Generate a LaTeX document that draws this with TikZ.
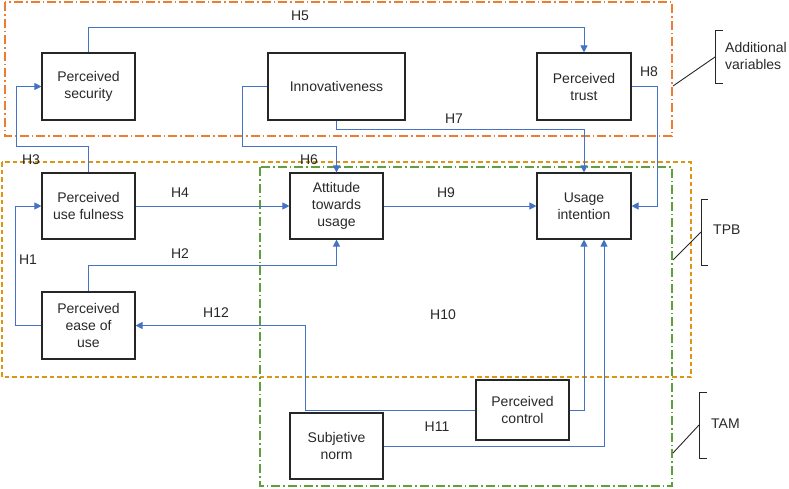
\documentclass[tikz,border=0pt]{standalone}
\usepackage{fontspec}
\setmainfont{Liberation Sans}
\usetikzlibrary{arrows.meta,calc}
\definecolor{conncol}{RGB}{68,114,196}
\definecolor{addcol}{RGB}{237,125,49}
\definecolor{tpbcol}{RGB}{220,150,20}
\definecolor{tamcol}{RGB}{96,160,60}
\definecolor{txtcol}{RGB}{40,40,40}
\begin{document}
\begin{tikzpicture}[x=1pt,y=-1pt,
  every node/.style={font=\fontsize{14}{17}\selectfont, text=txtcol},
  box/.style={draw=black!85, line width=1.1pt, rectangle, align=center, inner sep=2pt},
  conn/.style={draw=conncol, line width=0.9pt, -{Triangle[length=7pt,width=7pt]}},
  lab/.style={inner sep=0pt},
  addgrp/.style={draw=addcol, line width=1.5pt, dash pattern=on 9pt off 3pt on 1.5pt off 3pt},
  tpbgrp/.style={draw=tpbcol, line width=1.5pt, dash pattern=on 4.5pt off 3pt},
  tamgrp/.style={draw=tamcol, line width=1.5pt, dash pattern=on 9pt off 3pt on 1.5pt off 3pt},
  brk/.style={draw=black!85, line width=0.9pt}
]
\useasboundingbox (0,0) rectangle (789,488);

% group frames
\draw[addgrp] (5,2) rectangle (672,136);
\draw[tpbgrp] (2,162) rectangle (691,377);
\draw[tamgrp] (260,167) rectangle (672,486);

% boxes
\node[box, minimum width=93pt, minimum height=67pt] (sec) at (88.5,86.5) {Perceived\\security};
\node[box, minimum width=137pt, minimum height=67pt] (inn) at (336.5,86.5) {Innovativeness};
\node[box, minimum width=94pt, minimum height=67pt] (trust) at (584,86.5) {Perceived\\trust};
\node[box, minimum width=93pt, minimum height=66pt] (puf) at (88.5,206) {Perceived\\use fulness};
\node[box, minimum width=93pt, minimum height=66pt] (att) at (336.5,206) {Attitude\\towards\\usage};
\node[box, minimum width=94pt, minimum height=66pt] (ui) at (584,206) {Usage\\intention};
\node[box, minimum width=93pt, minimum height=67pt] (peou) at (88.5,325.5) {Perceived\\ease of\\use};
\node[box, minimum width=93pt, minimum height=60pt] (pc) at (522.5,410) {Perceived\\control};
\node[box, minimum width=93pt, minimum height=66pt] (sn) at (336.5,446) {Subjetive\\norm};

% connectors
\draw[conn] (sec.north) -- ++(0,-25) -| (trust.north);
\draw[conn] (puf.north) |- (16,146) |- (sec.west);
\draw[conn] (inn.west) -| (242,146) -| (att.north);
\draw[conn] (inn.south) -- ++(0,9) -| (ui.north);
\draw[conn] (trust.east) -- ++(26,0) |- (ui.east);
\draw[conn] (puf.east) -- (att.west);
\draw[conn] (att.east) -- (ui.west);
\draw[conn] (peou.west) -- ++(-26,0) |- (puf.west);
\draw[conn] (peou.north) -- ++(0,-26) -| (att.south);
\draw[conn] (pc.west) -- ++(-170,0) |- (peou.east);
\draw[conn] (pc.east) -| (ui.south);
\draw[conn] (sn.east) -| ($(ui.south)+(20,0)$);

% hypothesis labels
\node[lab] (h5) at (300,16) {H5};
\node[lab] (h3) at (31,160) {H3};
\node[lab] (h6) at (309,160) {H6};
\node[lab] (h7) at (454,119) {H7};
\node[lab] (h8) at (649,72) {H8};
\node[lab] (h4) at (180,193) {H4};
\node[lab] (h9) at (446,193) {H9};
\node[lab] (h1) at (28,260) {H1};
\node[lab] (h2) at (180,254) {H2};
\node[lab] (h12) at (216,313) {H12};
\node[lab] (h10) at (443,315) {H10};
\node[lab] (h11) at (437,427) {H11};

% brackets
\coordinate (a1) at (673,86);
\coordinate (a2) at (715,57);
\draw[brk] (723,30) -- (715,30) -- (715,83) -- (723,83);
\draw[brk] (a1) -- (a2);
\node[anchor=west, align=left, inner sep=0pt] (addl) at (725,56) {Additional\\variables};

\coordinate (t1) at (673,260);
\coordinate (t2) at (701,232);
\draw[brk] (708,199) -- (701,199) -- (701,265) -- (708,265);
\draw[brk] (t1) -- (t2);
\node[anchor=west, inner sep=0pt] (tpb) at (713,230) {TPB};

\coordinate (m1) at (673,453);
\coordinate (m2) at (699,425);
\draw[brk] (707,392) -- (699,392) -- (699,458) -- (707,458);
\draw[brk] (m1) -- (m2);
\node[anchor=west, inner sep=0pt] (tam) at (711,424) {TAM};
\end{tikzpicture}
\end{document}
